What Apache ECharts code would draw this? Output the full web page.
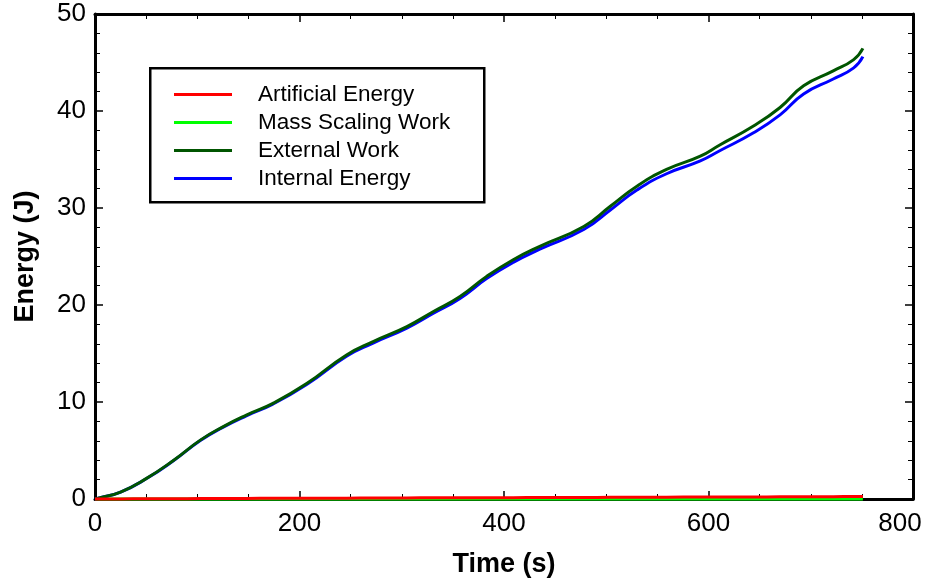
<!DOCTYPE html>
<html>
<head>
<meta charset="utf-8">
<script src="https://cdn.jsdelivr.net/npm/echarts@6/dist/echarts.min.js"></script>
<style>html,body{margin:0;padding:0;background:#fff}#c{width:927px;height:582px}</style>
</head>
<body>
<div id="c"></div>
<script>
var time = [0, 5, 25, 50, 77, 103, 125, 148, 174, 207, 246, 272, 305, 331, 357, 383, 409, 435, 478, 504, 530, 559, 592, 611, 644, 670, 693, 722, 742, 751];
var externalWork = [0, 0.14, 0.72, 2.1, 4.0, 6.07, 7.44, 8.65, 9.86, 11.9, 14.85, 16.23, 17.78, 19.33, 20.88, 22.95, 24.67, 26.05, 28.1, 30.18, 32.25, 33.98, 35.35, 36.5, 38.45, 40.36, 42.6, 44.14, 45.3, 46.45];
var internalEnergy = [0, 0.14, 0.71, 2.08, 3.97, 6.03, 7.39, 8.58, 9.78, 11.8, 14.72, 16.08, 17.62, 19.15, 20.68, 22.72, 24.4, 25.75, 27.78, 29.8, 31.85, 33.53, 34.85, 35.9, 37.75, 39.6, 41.75, 43.3, 44.45, 45.6];
var artificialEnergy = [0, 0, 0.01, 0.02, 0.03, 0.04, 0.05, 0.06, 0.07, 0.08, 0.09, 0.1, 0.11, 0.12, 0.12, 0.13, 0.14, 0.15, 0.16, 0.17, 0.18, 0.19, 0.2, 0.2, 0.21, 0.22, 0.23, 0.24, 0.25, 0.25];
var massScalingWork = [0, 0, 0, 0, 0, 0, 0, 0, 0, 0, 0, 0, 0, 0, 0, 0, 0, 0, 0, 0, 0, 0, 0, 0, 0, 0, 0, 0, 0, 0];
var seriesNames = ['Artificial Energy', 'Mass Scaling Work', 'External Work', 'Internal Energy'];
var xTicks = [0, 200, 400, 600, 800];
var yTicks = [0, 10, 20, 30, 40, 50];

function pairs(ys) { return time.map(function (t, i) { return [t, ys[i]]; }); }

var FONT = '"Liberation Sans", Arial, sans-serif';
var chart = echarts.init(document.getElementById('c'), null, { renderer: 'canvas' });

var axisBase = {
  axisLine: { show: true, onZero: false, lineStyle: { color: '#000', width: 3 } },
  axisTick: { show: true, inside: true, length: 8, lineStyle: { color: '#000', width: 1.5 } },
  splitLine: { show: false }
};

function lineSeries(name, data, color) {
  return {
    name: name, type: 'line', data: pairs(data), smooth: 0.5, symbol: 'none',
    lineStyle: { color: color, width: 3 }, itemStyle: { color: color },
    clip: false, animation: false
  };
}

chart.setOption({
  animation: false,
  backgroundColor: '#fff',
  grid: { left: 95, top: 14, right: 14, bottom: 83, containLabel: false, outerBoundsMode: 'none' },
  xAxis: [
    Object.assign({}, axisBase, {
      type: 'value', min: 0, max: 800, interval: 200, position: 'bottom',
      minorTick: { show: true, splitNumber: 4, length: 5, lineStyle: { color: '#000', width: 1 } },
      axisLabel: { color: '#000', fontSize: 26, fontFamily: FONT, margin: 12,
        formatter: function (v) {
          if (xTicks.indexOf(v) < 0) return '';
          return v === 800 ? '{r|' + v + '}' : String(v);
        },
        rich: { r: { color: '#000', fontSize: 26, fontFamily: FONT, padding: [0, 26, 0, 0] } } },
      name: 'Time (s)', nameLocation: 'middle', nameGap: 52,
      nameTextStyle: { color: '#000', fontSize: 27, fontWeight: 'bold', fontFamily: FONT }
    }),
    Object.assign({}, axisBase, {
      type: 'value', min: 0, max: 800, interval: 200, position: 'top',
      minorTick: { show: true, splitNumber: 4, length: 5, lineStyle: { color: '#000', width: 1 } },
      axisLabel: { show: false }
    })
  ],
  yAxis: [
    Object.assign({}, axisBase, {
      type: 'value', min: 0, max: 50, interval: 10, position: 'left',
      minorTick: { show: true, splitNumber: 5, length: 5, lineStyle: { color: '#000', width: 1 } },
      axisLabel: { color: '#000', fontSize: 26, fontFamily: FONT, margin: 9,
        formatter: function (v) { return yTicks.indexOf(v) >= 0 ? String(v) : ''; } },
      name: 'Energy (J)', nameLocation: 'middle', nameGap: 56, nameRotate: 90,
      nameTextStyle: { color: '#000', fontSize: 27, fontWeight: 'bold', fontFamily: FONT }
    }),
    Object.assign({}, axisBase, {
      type: 'value', min: 0, max: 50, interval: 10, position: 'right',
      minorTick: { show: true, splitNumber: 5, length: 5, lineStyle: { color: '#000', width: 1 } },
      axisLabel: { show: false }
    })
  ],
  graphic: [{
    type: 'rect', left: 149, top: 67, z: 100,
    shape: { width: 334, height: 134 },
    style: { fill: '#fff', stroke: '#000', lineWidth: 2.5 }
  }],
  legend: {
    orient: 'vertical', left: 174, top: 83, z: 200,
    data: seriesNames, icon: 'rect', itemWidth: 58, itemHeight: 3, itemGap: 5,
    padding: 0,
    textStyle: { color: '#000', fontSize: 22.5, fontFamily: FONT, lineHeight: 22, padding: [0, 0, 0, 21] },
    selectedMode: false
  },
  series: [
    lineSeries('Mass Scaling Work', massScalingWork, '#00ff00'),
    lineSeries('Internal Energy', internalEnergy, '#0000ff'),
    lineSeries('External Work', externalWork, '#005500'),
    lineSeries('Artificial Energy', artificialEnergy, '#ff0000')
  ]
});
</script>
</body>
</html>
